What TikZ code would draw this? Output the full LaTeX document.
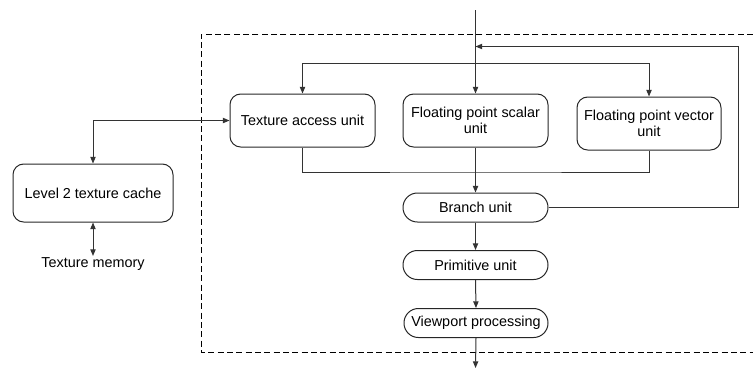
\documentclass[tikz,border=0pt]{standalone}
\usepackage{fontspec}
\setmainfont{Liberation Sans}
\usetikzlibrary{arrows.meta}
\begin{document}
\begin{tikzpicture}[x=0.75pt,y=-0.75pt,
  font=\fontsize{10.8}{12.2}\selectfont,
  box/.style={draw=black!85, line width=0.75pt, rounded corners=8pt, align=center, inner sep=1pt},
  pill/.style={draw=black!85, line width=0.75pt, rounded corners=10.8pt, align=center, inner sep=1pt, minimum width=108.75pt, minimum height=21.75pt},
  conn/.style={draw=black!80, line width=0.75pt},
  tip/.style={-{Triangle[length=5pt,width=4pt]}},
  tips/.style={{Triangle[length=5pt,width=4pt]}-{Triangle[length=5pt,width=4pt]}}]
\useasboundingbox (0,0) rectangle (753,369);
% dashed enclosure
\coordinate (dtr) at (753,34);
\coordinate (dtl) at (201,34);
\coordinate (dbl) at (201,352);
\coordinate (dbr) at (753,352);
\draw[dashed, line width=0.75pt, dash pattern=on 4.5pt off 2.5pt] (dtr) -- (dtl) -- (dbl) -- (dbr);
% nodes
\node[box, minimum width=108.75pt, minimum height=39.75pt] (tau) at (302.5,120.5) {Texture access unit};
\node[box, minimum width=108.75pt, minimum height=39.75pt] (fps) at (475.5,120.5) {Floating point scalar\\unit};
\node[box, minimum width=108pt, minimum height=39.75pt] (fpv) at (649,123.5) {Floating point vector\\unit};
\node[pill] (br) at (475.5,207.5) {Branch unit};
\node[pill] (pu) at (475.5,265) {Primitive unit};
\node[pill, minimum width=108pt] (vp) at (476,323) {Viewport processing};
\node[box, minimum width=120pt, minimum height=43.5pt] (l2) at (93,193) {Level 2 texture cache};
\node[inner sep=1pt] (tm) at (93,264) {Texture memory};
% coordinates
\coordinate (in) at (475.5,10);
\coordinate (out) at (475.5,368);
\coordinate (fbr) at (738,46.5);
\coordinate (fbl) at (475.5,46.5);
\coordinate (d1) at (302.5,63);
\coordinate (d2) at (649,63);
\coordinate (c1) at (475.5,172);
% connectors
\draw[conn, tip] (in) -- (fps.north);
\draw[conn, tip] (br.east) -| (fbr) -- (fbl);
\draw[conn, tips] (tau.north) -- (d1) -- (d2) -- (fpv.north);
\draw[conn] (tau.south) |- (c1) -| (fpv.south);
\draw[conn, tip] (fps.south) -- (br.north);
\draw[conn, tip] (br.south) -- (pu.north);
\draw[conn, tip] (pu.south) -- (vp.north);
\draw[conn, tip] (vp.south) -- (out);
\draw[conn, tips] (tau.west) -| (l2.north);
\draw[conn, tips] (l2.south) -- (tm.north);
\end{tikzpicture}
\end{document}
